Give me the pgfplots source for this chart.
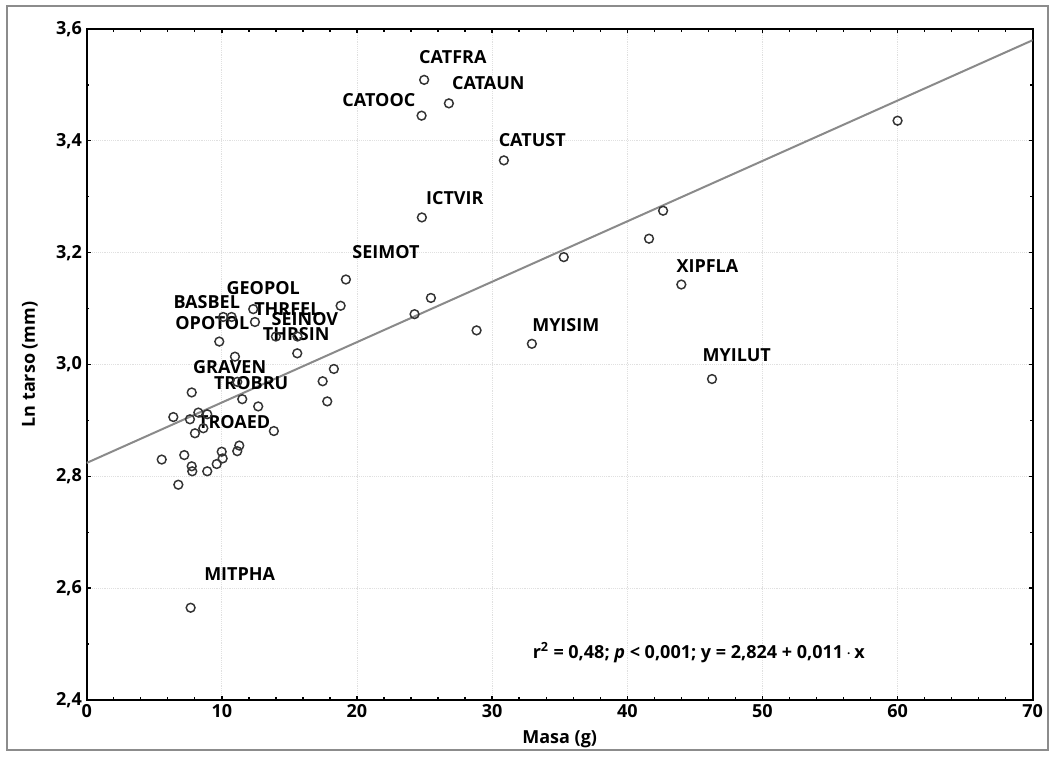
\documentclass[border=0pt]{standalone}
\usepackage{pgfplots}
\pgfplotsset{compat=1.18}
\usepackage{fontspec}
\setmainfont{Open Sans}
\definecolor{markgray}{HTML}{333333}
\definecolor{linegray}{HTML}{8A8A8A}
\definecolor{framegray}{HTML}{8C8C8C}
\newcommand{\lbl}{\fontsize{13.5}{16}\selectfont\bfseries}

% species: body mass (g) vs. ln tarsus length (mm)
\pgfplotstableread{
x y
19.18 3.152
18.79 3.105
12.32 3.099
12.45 3.076
10.10 3.085
10.72 3.085
9.81 3.041
10.97 3.014
15.58 3.020
14.00 3.050
15.60 3.050
18.29 2.992
17.46 2.970
17.80 2.934
7.77 2.950
11.14 2.969
11.51 2.938
12.69 2.925
6.41 2.906
7.64 2.902
8.26 2.914
8.92 2.911
8.63 2.886
8.01 2.877
13.85 2.881
11.29 2.855
11.14 2.845
9.99 2.844
10.06 2.832
9.62 2.822
8.92 2.809
7.22 2.838
5.55 2.830
7.77 2.818
7.81 2.809
6.78 2.785
7.69 2.565
24.97 3.509
26.80 3.467
24.78 3.445
30.87 3.365
24.80 3.263
35.30 3.192
42.65 3.275
41.61 3.225
44.00 3.143
25.47 3.119
24.26 3.090
28.85 3.061
32.94 3.037
46.27 2.974
60.00 3.436
}\species

\begin{document}
\begin{tikzpicture}[x=0.75pt,y=0.75pt]
\useasboundingbox (0,0) rectangle (1055,756);
\draw[framegray, line width=1.1pt] (7,6) rectangle (1048,750);
\begin{axis}[
  at={(65.025pt,42pt)}, anchor=south west,
  width=709.5pt, height=503.25pt, scale only axis,
  xmin=0, xmax=70, ymin=2.4, ymax=3.6,
  xtick={0,10,20,30,40,50,60,70},
  ytick={2.4,2.6,2.8,3.0,3.2,3.4,3.6},
  minor x tick num=4, minor y tick num=1,
  tick align=inside,
  major tick length=3pt, minor tick length=2pt,
  every tick/.style={black, line width=1pt},
  axis line style={black, line width=1.5pt},
  grid=major,
  major grid style={densely dotted, black!12, line width=0.6pt},
  /pgf/number format/assume math mode=true,
  yticklabel style={/pgf/number format/.cd, use comma, fixed, fixed zerofill, precision=1},
  tick label style={font=\lbl},
  xlabel={Masa (g)}, ylabel={Ln tarso (mm)},
  label style={font=\lbl},
  xlabel style={at={(axis description cs:0.5,-0.058)}, anchor=center},
  ylabel style={at={(axis description cs:-0.06,0.5)}, anchor=center},
  clip=true,
]
% fitted regression line (slope 0.0108, shown rounded as 0.011)
\addplot[linegray, line width=1.5pt] coordinates {(0,2.824) (70,3.580)};
\addplot[only marks, mark=o, mark size=3.3pt,
  mark options={draw=markgray, line width=1.1pt}] table[x=x, y=y] {\species};

\begin{scope}[every node/.style={font=\lbl, inner sep=0pt}]
\node at (axis cs:27.09,3.550) {CATFRA};
\node at (axis cs:29.72,3.504) {CATAUN};
\node at (axis cs:21.62,3.473) {CATOOC};
\node at (axis cs:32.97,3.402) {CATUST};
\node at (axis cs:27.24,3.297) {ICTVIR};
\node at (axis cs:22.14,3.201) {SEIMOT};
\node at (axis cs:35.45,3.071) {MYISIM};
\node at (axis cs:45.93,3.176) {XIPFLA};
\node at (axis cs:48.10,3.017) {MYILUT};
\node at (axis cs:11.32,2.625) {MITPHA};
\node at (axis cs:13.06,3.136) {GEOPOL};
\node at (axis cs:8.88,3.112) {BASBEL};
\node at (axis cs:14.85,3.100) {THRFEL};
\node at (axis cs:16.15,3.081) {SEINOV};
\node at (axis cs:9.30,3.074) {OPOTOL};
\node at (axis cs:15.50,3.054) {THRSIN};
\node at (axis cs:10.58,2.996) {GRAVEN};
\node at (axis cs:12.17,2.966) {TROBRU};
\node at (axis cs:10.91,2.897) {TROAED};
\node[anchor=west] at (axis cs:32.99,2.485)
  {r\textsuperscript{2} = 0,48; \textit{p} < 0,001; y = 2,824 + 0,011\,$\cdot$\,x};
\end{scope}
\end{axis}
\end{tikzpicture}
\end{document}
